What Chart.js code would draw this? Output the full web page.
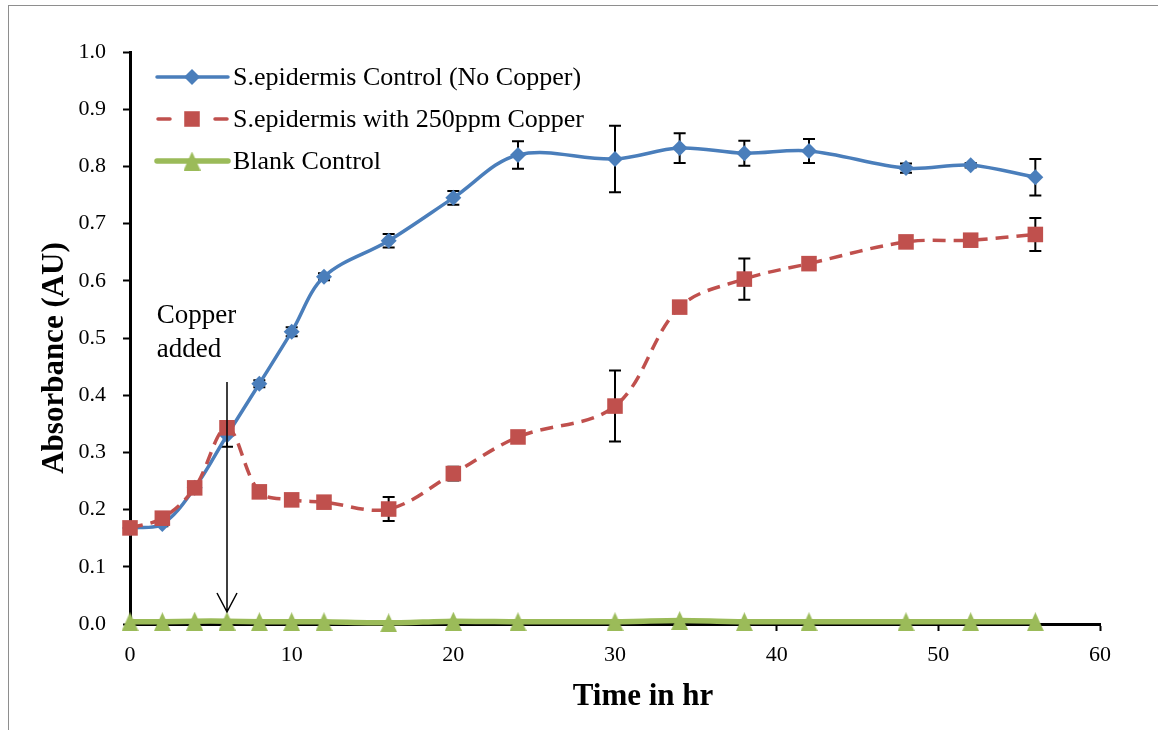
<!DOCTYPE html>
<html>
<head>
<meta charset="utf-8">
<title>Growth of S. epidermis with copper</title>
<script src="https://cdn.jsdelivr.net/npm/chart.js@4.4.1/dist/chart.umd.min.js"></script>
<style>
  html, body { margin: 0; padding: 0; background: #fff; overflow: hidden; }
  #wrap { position: relative; width: 1158px; height: 730px; }
  #frame { position: absolute; left: 8px; top: 5px; width: 1200px; height: 800px;
           border: 1.5px solid #8e8e8e; box-sizing: border-box; }
  #c { position: absolute; left: 0; top: 0; }
</style>
</head>
<body>
<div id="wrap">
  <div id="frame"></div>
  <canvas id="c" width="1158" height="730"></canvas>
</div>
<script>
// Sampling times (hours)
const timeHours = [0, 2, 4, 6, 8, 10, 12, 16, 20, 24, 30, 34, 38, 42, 48, 52, 56];

// Absorbance readings (AU) and their standard deviations
const controlMean = [0.168, 0.175, 0.238, 0.330, 0.420, 0.511, 0.607, 0.670, 0.745, 0.820, 0.813, 0.832, 0.823, 0.827, 0.797, 0.802, 0.781];
const controlErr  = [0.004, 0.004, 0.005, 0.020, 0.006, 0.008, 0.006, 0.012, 0.012, 0.024, 0.058, 0.026, 0.022, 0.021, 0.008, 0.004, 0.032];

const copperMean  = [0.168, 0.185, 0.238, 0.343, 0.231, 0.217, 0.213, 0.201, 0.263, 0.327, 0.381, 0.554, 0.603, 0.630, 0.668, 0.671, 0.681];
const copperErr   = [0.004, 0.004, 0.005, 0.008, 0.006, 0.006, 0.006, 0.021, 0.012, 0.006, 0.062, 0.008, 0.036, 0.006, 0.006, 0.006, 0.029];

const blankMean   = [0.004, 0.004, 0.005, 0.005, 0.004, 0.004, 0.004, 0.002, 0.005, 0.004, 0.004, 0.006, 0.004, 0.004, 0.004, 0.004, 0.004];

// Axis ticks
const xTicks = [0, 10, 20, 30, 40, 50, 60];
const yTickStep = 0.1;

// Series labels
const seriesLabels = ['S.epidermis Control (No Copper)', 'S.epidermis with 250ppm Copper', 'Blank Control'];

const SERIF = '"Liberation Serif", "Times New Roman", serif';

const toPoints = (ys) => timeHours.map((t, i) => ({ x: t, y: ys[i] }));

// Triangle marker centred on its data point
function triangleMarker(color, w, h) {
  const cv = document.createElement('canvas');
  cv.width = w; cv.height = h;
  const g = cv.getContext('2d');
  g.fillStyle = color;
  g.beginPath();
  g.moveTo(w / 2, 0);
  g.lineTo(w, h);
  g.lineTo(0, h);
  g.closePath();
  g.fill();
  return cv;
}
const blankMarker = triangleMarker('#9BBB59', 17, 19);

// Error bars drawn beneath the markers
const errorBarPlugin = {
  id: 'errorBars',
  beforeDatasetsDraw(chart) {
    const { ctx, scales: { x, y } } = chart;
    ctx.save();
    ctx.strokeStyle = '#000';
    ctx.lineWidth = 2;
    chart.data.datasets.forEach((ds) => {
      if (!ds.errors) return;
      ds.data.forEach((p, i) => {
        const e = ds.errors[i];
        const px = x.getPixelForValue(p.x);
        const top = y.getPixelForValue(p.y + e);
        const bot = y.getPixelForValue(p.y - e);
        ctx.beginPath();
        ctx.moveTo(px, top); ctx.lineTo(px, bot);
        ctx.moveTo(px - 6, top); ctx.lineTo(px + 6, top);
        ctx.moveTo(px - 6, bot); ctx.lineTo(px + 6, bot);
        ctx.stroke();
      });
    });
    ctx.restore();
  }
};

// "Copper added" note with arrow at the time copper was introduced
const copperNote = { time: 6, arrowTop: 0.423, arrowTip: 0.021, textX: 1.66, line1Y: 0.526, line2Y: 0.467 };
const notePlugin = {
  id: 'copperNote',
  afterDatasetsDraw(chart) {
    const { ctx, scales: { x, y } } = chart;
    const ax = x.getPixelForValue(copperNote.time);
    const y0 = y.getPixelForValue(copperNote.arrowTop);
    const y1 = y.getPixelForValue(copperNote.arrowTip);
    ctx.save();
    ctx.strokeStyle = '#000';
    ctx.lineWidth = 1.5;
    ctx.beginPath();
    ctx.moveTo(ax, y0); ctx.lineTo(ax, y1);
    ctx.moveTo(ax - 10, y1 - 19); ctx.lineTo(ax, y1); ctx.lineTo(ax + 10, y1 - 19);
    ctx.stroke();
    ctx.fillStyle = '#000';
    ctx.font = '27px ' + SERIF;
    ctx.textAlign = 'left';
    ctx.textBaseline = 'alphabetic';
    const tx = x.getPixelForValue(copperNote.textX);
    ctx.fillText('Copper', tx, y.getPixelForValue(copperNote.line1Y));
    ctx.fillText('added', tx, y.getPixelForValue(copperNote.line2Y));
    ctx.restore();
  }
};

// Legend in the upper-left corner of the plot
const legendPlugin = {
  id: 'insetLegend',
  afterDraw(chart) {
    const { ctx } = chart;
    const x0 = 157, x1 = 228, mx = 192, tx = 233;
    const rows = [77, 119, 161];
    ctx.save();
    chart.data.datasets.forEach((ds, i) => {
      const ry = rows[i];
      ctx.strokeStyle = ds.borderColor;
      ctx.lineWidth = ds.borderWidth;
      ctx.lineCap = 'round';
      ctx.beginPath();
      if (ds.borderDash && ds.borderDash.length) {
        ctx.moveTo(x0 + 1, ry); ctx.lineTo(x0 + 13, ry);
        ctx.moveTo(x1 - 13, ry); ctx.lineTo(x1 - 1, ry);
      } else {
        ctx.moveTo(x0, ry); ctx.lineTo(x1, ry);
      }
      ctx.stroke();
      ctx.fillStyle = ds.pointBackgroundColor;
      Chart.helpers.drawPoint(ctx, {
        pointStyle: ds.pointStyle,
        radius: ds.pointRadius,
        rotation: 0,
        borderWidth: 0
      }, mx, ry);
      ctx.fillStyle = '#000';
      ctx.font = '26px ' + SERIF;
      ctx.textAlign = 'left';
      ctx.textBaseline = 'middle';
      ctx.fillText(ds.label, tx, ry + 1);
    });
    ctx.restore();
  }
};

// Axis titles
const titlePlugin = {
  id: 'axisTitles',
  afterDraw(chart) {
    const { ctx } = chart;
    ctx.save();
    ctx.fillStyle = '#000';
    ctx.font = 'bold 31px ' + SERIF;
    ctx.textAlign = 'center';
    ctx.textBaseline = 'alphabetic';
    ctx.fillText('Time in hr', 643, 705);
    ctx.translate(63, 358);
    ctx.rotate(-Math.PI / 2);
    ctx.fillText('Absorbance (AU)', 0, 0);
    ctx.restore();
  }
};

new Chart(document.getElementById('c'), {
  type: 'line',
  data: {
    datasets: [
      {
        label: seriesLabels[0],
        data: toPoints(controlMean),
        errors: controlErr,
        borderColor: '#4A7EBB',
        backgroundColor: '#4A7EBB',
        pointBackgroundColor: '#4A7EBB',
        borderWidth: 3.5,
        tension: 0.35,
        pointStyle: 'rectRot',
        pointRadius: 8,
        pointBorderWidth: 0,
        order: 3
      },
      {
        label: seriesLabels[1],
        data: toPoints(copperMean),
        errors: copperErr,
        borderColor: '#C0504D',
        backgroundColor: '#C0504D',
        pointBackgroundColor: '#C0504D',
        borderWidth: 3.5,
        borderDash: [13, 8],
        tension: 0.35,
        pointStyle: 'rect',
        pointRadius: 11,
        pointBorderWidth: 0,
        order: 2
      },
      {
        label: seriesLabels[2],
        data: toPoints(blankMean),
        borderColor: '#9BBB59',
        backgroundColor: '#9BBB59',
        pointBackgroundColor: '#9BBB59',
        borderWidth: 5.5,
        tension: 0.2,
        pointStyle: blankMarker,
        pointRadius: 10,
        pointBorderWidth: 0,
        order: 1
      }
    ]
  },
  options: {
    responsive: false,
    animation: false,
    devicePixelRatio: 1,
    clip: false,
    layout: { padding: { left: 0, top: 52, right: 58, bottom: 0 } },
    plugins: { legend: { display: false }, tooltip: { enabled: false } },
    scales: {
      x: {
        type: 'linear',
        min: xTicks[0],
        max: xTicks[xTicks.length - 1],
        afterFit(s) { s.height = 106; },
        afterBuildTicks(s) { s.ticks = xTicks.map(v => ({ value: v })); },
        ticks: { color: '#000', font: { family: SERIF, size: 22 }, padding: 11, maxRotation: 0 },
        grid: { drawOnChartArea: false, drawTicks: true, tickLength: 7, tickWidth: 2, tickColor: '#000' },
        border: { display: true, color: '#000', width: 3 },
        title: { display: false }
      },
      y: {
        min: 0,
        max: 1,
        afterFit(s) { s.width = 130; },
        ticks: {
          stepSize: yTickStep,
          color: '#000',
          font: { family: SERIF, size: 22 },
          padding: 17,
          callback: (v) => Number(v).toFixed(1)
        },
        grid: { drawOnChartArea: false, drawTicks: true, tickLength: 7, tickWidth: 2, tickColor: '#000' },
        border: { display: true, color: '#000', width: 3 },
        title: { display: false }
      }
    }
  },
  plugins: [errorBarPlugin, notePlugin, legendPlugin, titlePlugin]
});
</script>
</body>
</html>
